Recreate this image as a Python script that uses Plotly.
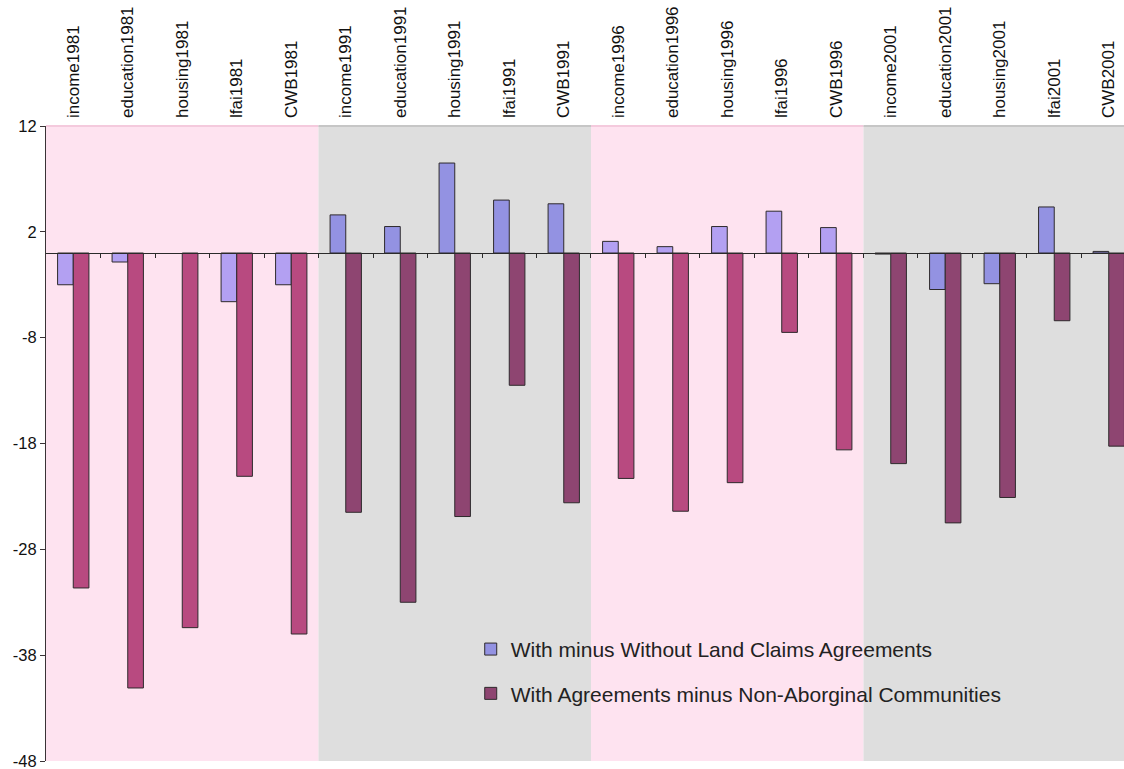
import plotly.graph_objects as go

# Indicator categories, grouped by census year
categories = [
    "income1981", "education1981", "housing1981", "lfai1981", "CWB1981",
    "income1991", "education1991", "housing1991", "lfai1991", "CWB1991",
    "income1996", "education1996", "housing1996", "lfai1996", "CWB1996",
    "income2001", "education2001", "housing2001", "lfai2001", "CWB2001",
]
years = ["1981", "1991", "1996", "2001"]

# Differences in index points
with_minus_without = [
    -3.0, -0.85, None, -4.6, -3.0,
    3.6, 2.5, 8.5, 5.0, 4.65,
    1.1, 0.6, 2.5, 3.95, 2.4,
    -0.1, -3.45, -2.9, 4.35, 0.15,
]
agreements_minus_nonaboriginal = [
    -31.65, -41.1, -35.4, -21.1, -36.0,
    -24.5, -33.0, -24.9, -12.5, -23.6,
    -21.3, -24.4, -21.7, -7.5, -18.6,
    -19.9, -25.5, -23.1, -6.4, -18.25,
]

y_ticks = [12, 2, -8, -18, -28, -38, -48]
y_tick_text = [str(v) for v in y_ticks]  # plain hyphen minus signs

series_names = [
    "With minus Without Land Claims Agreements",
    "With Agreements minus Non-Aborginal Communities",
]

FONT = "Liberation Sans, Arial, sans-serif"
PINK_BAND, PINK_EDGE = "#FEE3F0", "#F4CADD"
GRAY_BAND, GRAY_EDGE = "#DEDEDE", "#C6C6C6"
S1_ON_PINK, S1_ON_GRAY = "#B3A0F2", "#9392E2"
S2_ON_PINK, S2_ON_GRAY = "#B84A80", "#8E4571"
EDGE = "#2E2A2C"

n_per_year = len(categories) // len(years)


def band_of(i):
    return (i // n_per_year) % 2  # 0 = pink band, 1 = gray band


s1_colors = [S1_ON_PINK if band_of(i) == 0 else S1_ON_GRAY for i in range(len(categories))]
s2_colors = [S2_ON_PINK if band_of(i) == 0 else S2_ON_GRAY for i in range(len(categories))]

x_range = [-0.5, 19.28]

fig = go.Figure()

fig.add_trace(go.Bar(
    x=categories, y=with_minus_without, name=series_names[0],
    marker=dict(color=s1_colors, line=dict(color=EDGE, width=1)),
    showlegend=False,
))
fig.add_trace(go.Bar(
    x=categories, y=agreements_minus_nonaboriginal, name=series_names[1],
    marker=dict(color=s2_colors, line=dict(color=EDGE, width=1)),
    showlegend=False,
))

# Legend swatches
for name, col, grp in [(series_names[0], S1_ON_GRAY, "a"), (series_names[1], S2_ON_GRAY, "b")]:
    fig.add_trace(go.Scatter(
        x=[None], y=[None], mode="markers", name=name, legendgroup=grp,
        marker=dict(symbol="square", size=12, color=col, line=dict(color=EDGE, width=1)),
    ))

# Carrier trace for the zero-line axis with category boundary ticks
fig.add_trace(go.Scatter(x=[None], y=[None], xaxis="x2", showlegend=False, hoverinfo="skip"))

# Alternating year bands behind the bars, each with a slightly darker top edge
shapes = []
for g, _ in enumerate(years):
    x0 = g * n_per_year - 0.5
    x1 = (g + 1) * n_per_year - 0.5
    pink = g % 2 == 0
    shapes.append(dict(
        type="rect", xref="x", yref="paper", layer="below",
        x0=x0, x1=x1, y0=0, y1=1,
        fillcolor=PINK_BAND if pink else GRAY_BAND, line=dict(width=0),
    ))
    shapes.append(dict(
        type="line", xref="x", yref="paper", layer="below",
        x0=x0, x1=x1, y0=1, y1=1,
        line=dict(color=PINK_EDGE if pink else GRAY_EDGE, width=2),
    ))

boundaries = [i + 0.5 for i in range(len(categories))]

fig.update_layout(
    width=1124, height=769,
    margin=dict(l=46, r=0, t=126, b=8, autoexpand=False),
    paper_bgcolor="white", plot_bgcolor="white",
    font=dict(family=FONT, color="#111111", size=17),
    barmode="group", bargap=0.425, bargroupgap=0,
    shapes=shapes,
    xaxis=dict(
        type="category", side="top", range=x_range, tickangle=-90,
        tickfont=dict(size=17, family=FONT, color="#111111"),
        ticklabelstandoff=7, automargin=False,
        showgrid=False, zeroline=False, showline=False, ticks="",
        fixedrange=True,
    ),
    xaxis2=dict(
        overlaying="x", anchor="free", position=0.8, range=x_range,
        showline=True, linecolor="#2A2A2A", linewidth=1,
        ticks="outside", ticklen=4, tickcolor="#2A2A2A", tickwidth=1,
        tickvals=boundaries, showticklabels=False, automargin=False,
        showgrid=False, zeroline=False, fixedrange=True,
    ),
    yaxis=dict(
        range=[-48, 12], tickvals=y_ticks, ticktext=y_tick_text,
        ticklabeloverflow="allow", automargin=False,
        showline=True, linecolor="#3A3336", linewidth=1,
        ticks="outside", ticklen=5, tickcolor="#3A3336",
        tickfont=dict(size=16.5, family=FONT, color="#111111"),
        showgrid=False, zeroline=False, fixedrange=True,
    ),
    legend=dict(
        x=0.394, y=0.208, xanchor="left", yanchor="top",
        bgcolor="rgba(0,0,0,0)", borderwidth=0,
        font=dict(size=21, family=FONT, color="#222222"),
        tracegroupgap=14,
    ),
)

fig.write_html("out.html")
